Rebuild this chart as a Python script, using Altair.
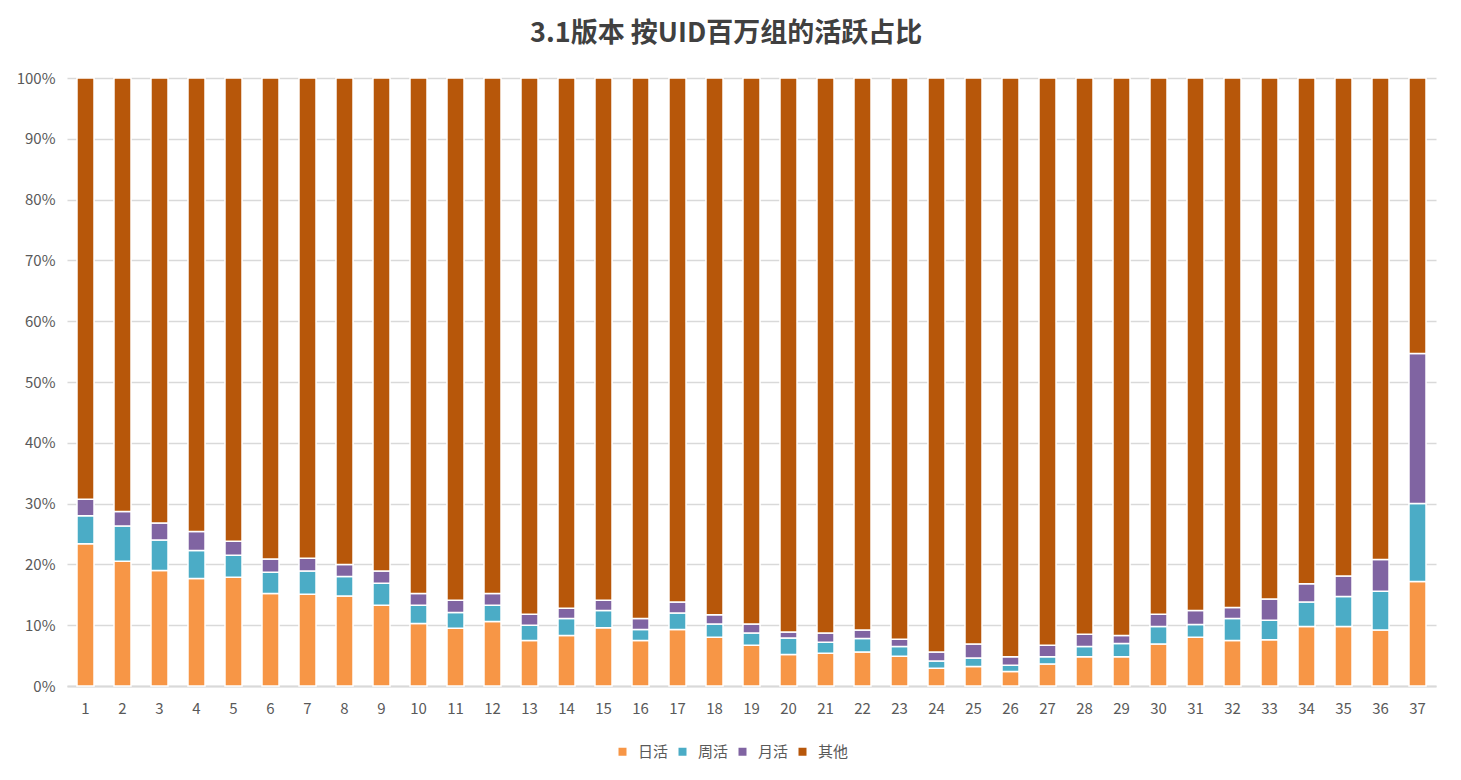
import altair as alt
import pandas as pd

groups = [str(i) for i in range(1, 38)]
series = ["日活", "周活", "月活", "其他"]
colors = ["#F79646", "#4BACC6", "#8064A2", "#B7570A"]

daily = [23.4, 20.5, 19.0, 17.7, 17.9, 15.2, 15.1, 14.8, 13.3, 10.3, 9.5, 10.6, 7.5, 8.3, 9.6, 7.5, 9.3, 8.0, 6.7,
         5.2, 5.4, 5.6, 4.9, 2.9, 3.2, 2.4, 3.6, 4.8, 4.8, 6.9, 8.0, 7.5, 7.6, 9.8, 9.8, 9.2, 17.2]
weekly = [4.6, 5.8, 5.0, 4.6, 3.6, 3.5, 3.8, 3.2, 3.6, 3.0, 2.6, 2.7, 2.5, 2.8, 2.8, 1.8, 2.7, 2.2, 2.0,
          2.7, 1.8, 2.2, 1.6, 1.2, 1.4, 1.0, 1.2, 1.7, 2.2, 2.9, 2.1, 3.6, 3.2, 4.0, 4.9, 6.4, 12.8]
monthly = [2.7, 2.4, 2.8, 3.1, 2.3, 2.2, 2.1, 2.0, 2.0, 1.9, 2.0, 1.9, 1.8, 1.7, 1.7, 1.8, 1.8, 1.5, 1.5,
           1.0, 1.5, 1.4, 1.2, 1.5, 2.3, 1.4, 1.9, 2.0, 1.3, 2.0, 2.3, 1.8, 3.5, 3.0, 3.4, 5.2, 24.7]
other = [69.3, 71.3, 73.2, 74.6, 76.2, 79.1, 79.0, 80.0, 81.1, 84.8, 85.9, 84.8, 88.2, 87.2, 85.9, 88.9, 86.2, 88.3, 89.8,
         91.1, 91.3, 90.8, 92.3, 94.4, 93.1, 95.2, 93.3, 91.5, 91.7, 88.2, 87.6, 87.1, 85.7, 83.2, 81.9, 79.2, 45.3]

rows = []
for si, (name, vals) in enumerate(zip(series, [daily, weekly, monthly, other])):
    for g, v in zip(groups, vals):
        rows.append({"组": g, "类型": name, "值": v, "idx": si})
df = pd.DataFrame(rows)

FONT = "Noto Sans CJK SC"

chart = alt.Chart(df).mark_bar(stroke="white", strokeWidth=1.5).encode(
    x=alt.X("组:N", sort=groups, title=None,
            scale=alt.Scale(paddingInner=0.54, paddingOuter=0.27),
            axis=alt.Axis(labelAngle=0, ticks=False, domainColor="#d9d9d9", domainWidth=2,
                          labelPadding=15, labelFontSize=15, labelColor="#595959", labelFont=FONT)),
    y=alt.Y("值:Q", stack="normalize", title=None,
            scale=alt.Scale(domain=[0, 1]),
            axis=alt.Axis(format=".0%", values=[i / 10 for i in range(11)], ticks=False, domain=False,
                          gridColor="#d9d9d9", gridWidth=1.5, labelPadding=12, labelFontSize=15,
                          labelColor="#595959", labelFont=FONT)),
    color=alt.Color("类型:N", sort=series, scale=alt.Scale(domain=series, range=colors),
                    legend=alt.Legend(title=None, orient="none", direction="horizontal",
                                      legendX=548, legendY=666,
                                      symbolType="square", symbolSize=64, symbolStrokeWidth=0,
                                      labelFontSize=15, labelColor="#595959", labelFont=FONT,
                                      columnPadding=6, labelOffset=8)),
    order=alt.Order("idx:Q", sort="ascending"),
).properties(
    width=1369, height=608,
    title=alt.TitleParams("3.1版本 按UID百万组的活跃占比", fontSize=27, font=FONT, fontWeight="bold",
                          color="#404040", anchor="middle", frame="bounds", offset=23),
    padding={"left": 8, "top": 12, "right": 10, "bottom": 10},
).configure_view(stroke=None)

chart.save("out.html", embed_options={"renderer": "svg", "actions": False})
